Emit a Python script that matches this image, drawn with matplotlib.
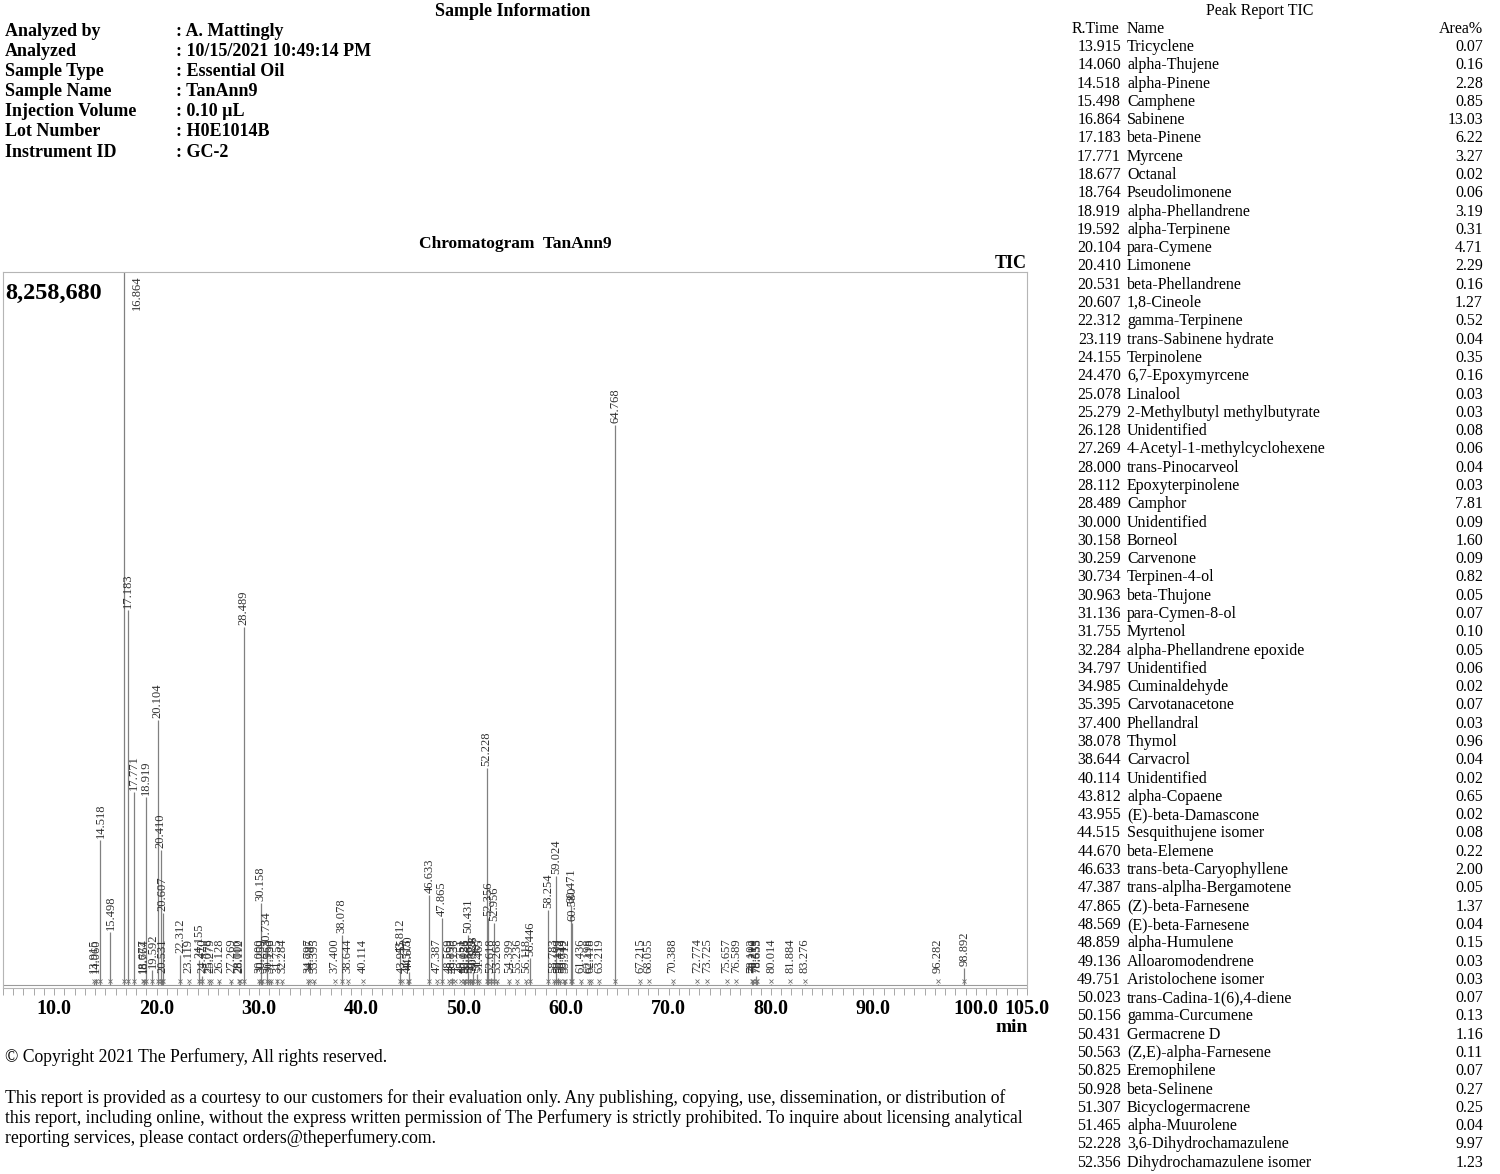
import numpy as np
import matplotlib
matplotlib.use("Agg")
import matplotlib.pyplot as plt

plt.rcParams['font.family'] = ['Liberation Serif', 'DejaVu Serif']

W, H = 1500, 1174
FULL = 8258680

# sample info
info_keys = ['Analyzed by', 'Analyzed', 'Sample Type', 'Sample Name',
             'Injection Volume', 'Lot Number', 'Instrument ID']
info_vals = [': A. Mattingly', ': 10/15/2021 10:49:14 PM', ': Essential Oil',
             ': TanAnn9', ': 0.10 µL', ': H0E1014B', ': GC-2']

# peaks on the chromatogram (retention time, estimated height in counts)
peak_rt = [13.915, 14.060, 14.518, 15.498, 16.864, 17.183, 17.771, 18.677, 18.764,
           18.919, 19.592, 20.104, 20.410, 20.531, 20.607, 22.312, 23.119, 24.155,
           24.470, 25.078, 25.279, 26.128, 27.269, 28.000, 28.112, 28.489, 30.000,
           30.158, 30.259, 30.734, 30.963, 31.136, 31.755, 32.284, 34.797, 34.985,
           35.395, 37.400, 38.078, 38.644, 40.114, 43.812, 43.955, 44.515, 44.670,
           46.633, 47.387, 47.865, 48.569, 48.859, 49.136, 49.751, 50.023, 50.156,
           50.431, 50.563, 50.825, 50.928, 51.307, 51.465, 52.228, 52.356, 52.618,
           52.956, 53.268, 54.399, 55.236, 56.118, 56.446, 58.254, 58.783, 59.024,
           59.199, 59.412, 59.749, 59.912, 60.471, 60.580, 61.436, 62.198, 62.418,
           63.219, 64.768, 67.215, 68.055, 70.388, 72.774, 73.725, 75.657, 76.589,
           78.102, 78.210, 78.553, 78.655, 80.014, 81.884, 83.276, 96.282, 98.892]
peak_h = [33000, 66000, 1676000, 611000, 10500000, 4344000, 2238000, 17000, 33000,
          2180000, 173000, 3072000, 1561000, 66000, 834000, 347000, 25000, 289000,
          99000, 25000, 25000, 50000, 41000, 25000, 25000, 4146000, 58000,
          950000, 58000, 429000, 33000, 41000, 66000, 33000, 33000, 17000,
          41000, 17000, 578000, 25000, 17000, 347000, 17000, 41000, 149000,
          1041000, 25000, 776000, 25000, 83000, 17000, 17000, 41000, 74000,
          578000, 66000, 41000, 149000, 132000, 25000, 2511000, 776000, 83000,
          718000, 41000, 33000, 25000, 33000, 314000, 867000, 41000, 1264000,
          83000, 41000, 41000, 33000, 925000, 718000, 33000, 25000, 25000,
          25000, 6483000, 25000, 17000, 25000, 17000, 17000, 17000, 17000,
          33000, 33000, 99000, 33000, 17000, 17000, 17000, 17000, 200000]

# peak report table
tab_rt = ['13.915', '14.060', '14.518', '15.498', '16.864', '17.183', '17.771', '18.677',
          '18.764', '18.919', '19.592', '20.104', '20.410', '20.531', '20.607', '22.312',
          '23.119', '24.155', '24.470', '25.078', '25.279', '26.128', '27.269', '28.000',
          '28.112', '28.489', '30.000', '30.158', '30.259', '30.734', '30.963', '31.136',
          '31.755', '32.284', '34.797', '34.985', '35.395', '37.400', '38.078', '38.644',
          '40.114', '43.812', '43.955', '44.515', '44.670', '46.633', '47.387', '47.865',
          '48.569', '48.859', '49.136', '49.751', '50.023', '50.156', '50.431', '50.563',
          '50.825', '50.928', '51.307', '51.465', '52.228', '52.356']
tab_name = ['Tricyclene', 'alpha-Thujene', 'alpha-Pinene', 'Camphene', 'Sabinene',
            'beta-Pinene', 'Myrcene', 'Octanal', 'Pseudolimonene', 'alpha-Phellandrene',
            'alpha-Terpinene', 'para-Cymene', 'Limonene', 'beta-Phellandrene', '1,8-Cineole',
            'gamma-Terpinene', 'trans-Sabinene hydrate', 'Terpinolene', '6,7-Epoxymyrcene',
            'Linalool', '2-Methylbutyl methylbutyrate', 'Unidentified',
            '4-Acetyl-1-methylcyclohexene', 'trans-Pinocarveol', 'Epoxyterpinolene',
            'Camphor', 'Unidentified', 'Borneol', 'Carvenone', 'Terpinen-4-ol',
            'beta-Thujone', 'para-Cymen-8-ol', 'Myrtenol', 'alpha-Phellandrene epoxide',
            'Unidentified', 'Cuminaldehyde', 'Carvotanacetone', 'Phellandral', 'Thymol',
            'Carvacrol', 'Unidentified', 'alpha-Copaene', '(E)-beta-Damascone',
            'Sesquithujene isomer', 'beta-Elemene', 'trans-beta-Caryophyllene',
            'trans-alplha-Bergamotene', '(Z)-beta-Farnesene', '(E)-beta-Farnesene',
            'alpha-Humulene', 'Alloaromodendrene', 'Aristolochene isomer',
            'trans-Cadina-1(6),4-diene', 'gamma-Curcumene', 'Germacrene D',
            '(Z,E)-alpha-Farnesene', 'Eremophilene', 'beta-Selinene', 'Bicyclogermacrene',
            'alpha-Muurolene', '3,6-Dihydrochamazulene', 'Dihydrochamazulene isomer']
tab_area = ['0.07', '0.16', '2.28', '0.85', '13.03', '6.22', '3.27', '0.02', '0.06', '3.19',
            '0.31', '4.71', '2.29', '0.16', '1.27', '0.52', '0.04', '0.35', '0.16', '0.03',
            '0.03', '0.08', '0.06', '0.04', '0.03', '7.81', '0.09', '1.60', '0.09', '0.82',
            '0.05', '0.07', '0.10', '0.05', '0.06', '0.02', '0.07', '0.03', '0.96', '0.04',
            '0.02', '0.65', '0.02', '0.08', '0.22', '2.00', '0.05', '1.37', '0.04', '0.15',
            '0.03', '0.03', '0.07', '0.13', '1.16', '0.11', '0.07', '0.27', '0.25', '0.04',
            '9.97', '1.23']

xticks = [10, 20, 30, 40, 50, 60, 70, 80, 90, 100, 105]
xtick_labels = ['10.0', '20.0', '30.0', '40.0', '50.0', '60.0', '70.0', '80.0',
                '90.0', '100.0', '105.0']


def fx(px):
    return px / W


def fy(py):
    return 1 - py / H


fig = plt.figure(figsize=(15, 11.74), dpi=100)

# header block
fig.text(fx(513), fy(11), 'Sample Information', fontsize=13, weight='bold',
         ha='center', va='center')
for i, (k, v) in enumerate(zip(info_keys, info_vals)):
    y = fy(31 + i * 20.2)
    fig.text(fx(5), y, k, fontsize=13, weight='bold', va='center')
    fig.text(fx(176), y, v, fontsize=13, weight='bold', va='center')

fig.text(fx(515), fy(244), 'Chromatogram  TanAnn9', fontsize=12.5, weight='bold',
         ha='center', va='center')
fig.text(fx(1027), fy(264), 'TIC', fontsize=13, weight='bold', ha='right', va='center')

# chromatogram
ax = fig.add_axes([fx(3), fy(988), fx(1027) - fx(3), (988 - 272) / H])
ax.set_xlim(5, 105)
ax.set_ylim(-0.0042 * FULL, FULL)
ax.axhline(0, color='#9a9a9a', lw=0.8, zorder=1)

rt = np.array(peak_rt)
ht = np.array(peak_h, dtype=float)
ax.vlines(rt, 0, np.minimum(ht, FULL * 1.1), color='#808080', lw=0.9, zorder=2)
ax.plot(rt, np.full(len(rt), 0.006 * FULL), 'x', color='#707070', ms=3.5, mew=0.6,
        zorder=3)

min_lab = 0.014 * FULL
for r, h in zip(peak_rt, peak_h):
    lab = '%.3f' % r
    if h > FULL:
        ax.text(r + 1.2, FULL * 0.995, lab, rotation=90, ha='center', va='top',
                fontsize=9, color='#303030')
    else:
        y = max(h, min_lab) + 0.003 * FULL
        ax.text(r, y, lab, rotation=90, ha='center', va='bottom', fontsize=9,
                color='#303030')

ax.text(0.002, 0.985, '8,258,680', transform=ax.transAxes, fontsize=17.5,
        weight='bold', ha='left', va='top')

for s in ax.spines.values():
    s.set_color('#b5b5b5')
    s.set_linewidth(0.8)
ax.set_yticks([])
ax.set_xticks(xticks)
ax.set_xticklabels(xtick_labels, fontsize=14.5, weight='bold')
ax.set_xticks(np.arange(5, 106, 1), minor=True)
ax.tick_params(axis='x', which='both', direction='out', length=5, width=0.6,
               color='#9a9a9a', pad=3)
fig.text(fx(1012), fy(1027), 'min', fontsize=14, weight='bold', ha='center',
         va='center')

# footer
fig.text(fx(5), fy(1057), '© Copyright 2021 The Perfumery, All rights reserved.',
         fontsize=12.7, va='center')
footer = ['This report is provided as a courtesy to our customers for their evaluation only. '
          'Any publishing, copying, use, dissemination, or distribution of',
          'this report, including online, without the express written permission of The '
          'Perfumery is strictly prohibited. To inquire about licensing analytical',
          'reporting services, please contact orders@theperfumery.com.']
for i, line in enumerate(footer):
    fig.text(fx(5), fy(1098 + i * 20.2), line, fontsize=12.7, va='center')

# peak report table
fig.text(fx(1260), fy(11), 'Peak Report TIC', fontsize=11.5, ha='center', va='center')
fig.text(fx(1072), fy(29), 'R.Time', fontsize=11.5, va='center')
fig.text(fx(1127), fy(29), 'Name', fontsize=11.5, va='center')
fig.text(fx(1483), fy(29), 'Area%', fontsize=11.5, ha='right', va='center')
for i, (r, n, a) in enumerate(zip(tab_rt, tab_name, tab_area)):
    y = fy(47 + i * 18.29)
    fig.text(fx(1121), y, r, fontsize=11.5, ha='right', va='center')
    fig.text(fx(1127), y, n, fontsize=11.5, va='center')
    fig.text(fx(1483), y, a, fontsize=11.5, ha='right', va='center')

fig.savefig('out.png', dpi=100, facecolor='white')
